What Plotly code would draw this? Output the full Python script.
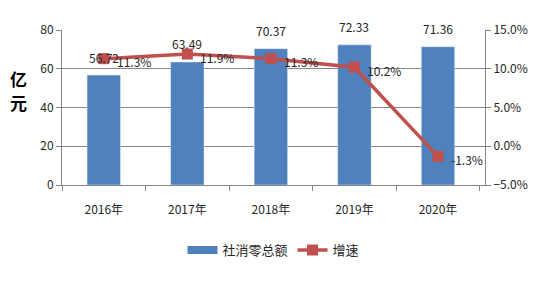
import plotly.graph_objects as go

years = ["2016年", "2017年", "2018年", "2019年", "2020年"]
sales = [56.72, 63.49, 70.37, 72.33, 71.36]
growth = [0.113, 0.119, 0.113, 0.102, -0.013]
growth_labels = ["11.3%", "11.9%", "11.3%", "10.2%", "-1.3%"]
sales_labels = ["56.72", "63.49", "70.37", "72.33", "71.36"]

FONT = "Noto Sans CJK SC"
TXT = "#262626"
BLUE = "#4F81BD"
RED = "#C0504D"
GRID = "#868686"

fig = go.Figure()
fig.add_trace(go.Bar(
    x=years, y=sales, name="社消零总额", marker_color=BLUE,
    width=0.4, yaxis="y", showlegend=False,
))
# legend entry for the bars (wide blue swatch like the reference)
fig.add_trace(go.Scatter(
    x=[None], y=[None], name="社消零总额", mode="lines",
    line=dict(color=BLUE, width=8), yaxis="y",
))
fig.add_trace(go.Scatter(
    x=years, y=growth, name="增速", yaxis="y2",
    mode="lines+markers",
    line=dict(color=RED, width=3.5),
    marker=dict(symbol="square", size=11, color=RED),
))

for x, v, t in zip(years, sales, sales_labels):
    fig.add_annotation(x=x, y=v, yref="y", text=t, showarrow=False,
                       yanchor="middle", yshift=18,
                       font=dict(size=12, color=TXT, family=FONT))

for x, v, t in zip(years, growth, growth_labels):
    fig.add_annotation(x=x, y=v, yref="y2", text=t, showarrow=False,
                       xanchor="left", yanchor="middle", xshift=11, yshift=-3,
                       font=dict(size=12, color=TXT, family=FONT))

for ch, yp in (("亿", 0.69), ("元", 0.535)):
    fig.add_annotation(x=-0.103, xref="paper", y=yp, yref="paper", text="<b>" + ch + "</b>",
                       showarrow=False, font=dict(size=17, color="#000", family=FONT),
                       xanchor="center", yanchor="middle")

fig.update_layout(
    width=540, height=282,
    margin=dict(l=62, r=52, t=30, b=97),
    paper_bgcolor="white", plot_bgcolor="white",
    font=dict(family=FONT, size=12, color=TXT),
    xaxis=dict(
        type="category", tickson="boundaries", ticks="outside", ticklen=5,
        tickcolor=GRID, showline=True, linecolor=GRID, linewidth=1,
        showgrid=False, tickfont=dict(size=12, color=TXT),
        ticklabelstandoff=14,
    ),
    yaxis=dict(
        range=[0, 80], dtick=20, showline=True, linecolor=GRID,
        ticks="outside", ticklen=5, tickcolor=GRID,
        gridcolor=GRID, gridwidth=1, zeroline=False,
        tickfont=dict(size=12, color=TXT),
    ),
    yaxis2=dict(
        range=[-0.05, 0.15], dtick=0.05, tickformat=".1%", overlaying="y",
        side="right", showline=True, linecolor=GRID,
        ticks="outside", ticklen=5, tickcolor=GRID,
        showgrid=False, zeroline=False, tickfont=dict(size=12, color=TXT),
    ),
    legend=dict(orientation="h", x=0.5, xanchor="center", y=-0.42, yanchor="middle",
                font=dict(size=13, color=TXT, family=FONT), itemwidth=30),
    showlegend=True,
)

fig.write_html("out.html")
